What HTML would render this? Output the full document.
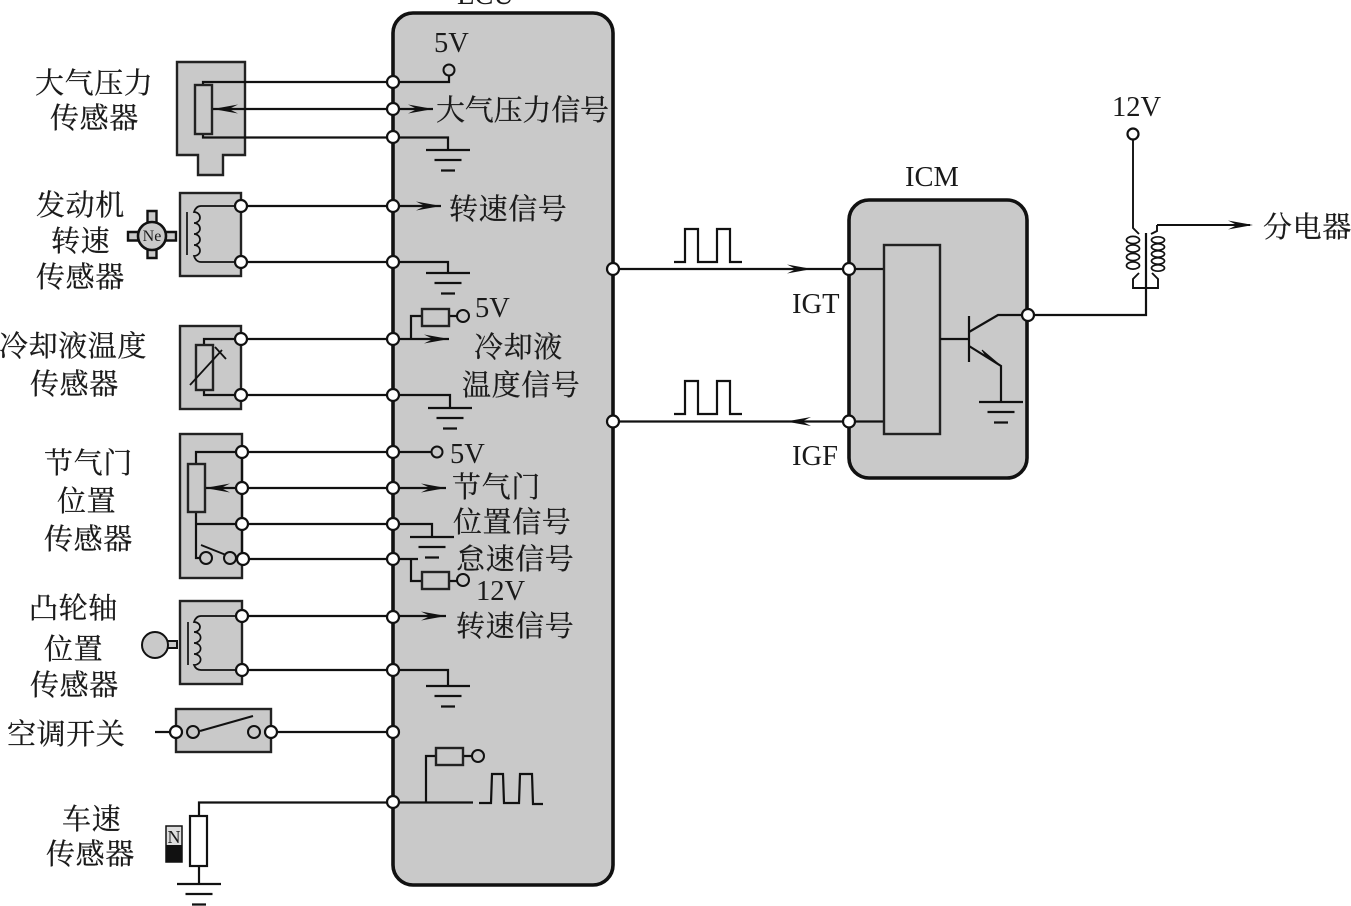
<!DOCTYPE html>
<html>
<head>
<meta charset="utf-8">
<style>
html,body{margin:0;padding:0;background:#fff}
svg{display:block}
.l{fill:none;stroke:#111;stroke-width:2.2}
.b{fill:#c9c9c9;stroke:#222;stroke-width:2.4}
.box{fill:#c9c9c9;stroke:#111;stroke-width:3.6}
.w{fill:#fff;stroke:#111;stroke-width:2.2}
.t{fill:none;stroke:#111;stroke-width:1.7}
.n{fill:#fff;stroke:#111;stroke-width:2.2}
.s{fill:#c9c9c9;stroke:#111;stroke-width:2}
text{fill:#1a1a1a}
.c{font-family:"Liberation Serif","Noto Serif CJK SC",serif;font-size:29px;letter-spacing:.6px;stroke:#1a1a1a;stroke-width:.25px}
.e{font-family:"Liberation Serif",serif;font-size:28.5px}
</style>
</head>
<body>
<svg width="1351" height="906" viewBox="0 0 1351 906" xmlns="http://www.w3.org/2000/svg">
<defs>
<path id="ar" d="M0 0L-25 -4.500L-16 0L-25 4.500Z" fill="#111"/>
<path id="al" d="M0 0L25 -4.500L16 0L25 4.500Z" fill="#111"/>
<path id="gnd" d="M-22 0H22M-13.500 10H13.500M-7 20.500H7" fill="none" stroke="#111" stroke-width="2.200"/>
</defs>

<!-- main boxes -->
<rect class="box" x="393" y="13" width="220" height="872" rx="20" ry="20"/>
<rect class="box" x="849" y="200" width="178" height="278" rx="20" ry="20"/>

<!-- sensor housings -->
<path class="b" d="M177 62H245V155H223V175H198V155H177Z"/>
<rect class="b" x="180" y="193" width="61" height="83"/>
<rect class="b" x="180" y="326" width="61" height="83"/>
<rect class="b" x="180" y="434" width="62" height="144"/>
<rect class="b" x="180" y="601" width="62" height="83"/>
<rect class="b" x="176" y="709" width="95" height="43"/>

<!-- sensor 1 -->
<path class="l" d="M203 85V82H393H449V76M203 134V137.500H393H448V150M213 109H433"/>
<rect class="b" x="195" y="85" width="17" height="49"/>
<use href="#al" x="213" y="109"/><use href="#ar" x="433" y="109"/>
<use href="#gnd" x="448" y="150"/>

<!-- sensor 2 -->
<path class="l" d="M241 206H393H441M241 262H393H448V273"/>
<path class="t" d="M241 206H201Q196 206 194 212a6 5.500 0 0 1 0 11a6 5.500 0 0 1 0 11a6 5.500 0 0 1 0 11a6 5.500 0 0 1 0 11Q196 262 201 262H241M187 212V255"/>
<use href="#ar" x="441" y="206"/>
<use href="#gnd" x="448" y="273"/>
<path fill="#c9c9c9" stroke="#111" stroke-width="2.400" d="M147.500 211H156.500V258H147.500ZM128 232H176V240.500H128Z"/>
<path fill="#c9c9c9" d="M149 213H155V256H149ZM130 233.500H174V239H130Z"/>
<circle cx="152" cy="236" r="14" fill="#c9c9c9" stroke="#111" stroke-width="2.600"/>
<text class="e" x="152" y="241" text-anchor="middle" style="font-size:16px">Ne</text>

<!-- sensor 3 -->
<path class="l" d="M204 345V339H393H449M204 390V395H393H450V408M411 339V316H422M449 316H457"/>
<rect class="b" x="196" y="345" width="17" height="45"/>
<path class="l" d="M190 385L222 350M215 347L226 359" style="stroke-width:1.800"/>
<rect class="b" x="422" y="309" width="27" height="17"/>
<use href="#ar" x="449" y="339"/>
<use href="#gnd" x="450" y="408"/>

<!-- sensor 4 -->
<path class="l" d="M196 464V452H393H431M196 512V558H200M196 524H393H432V537M242 452V559M205 488H446M243 559H393H411V581H422M449 581H457M393 559H418"/>
<rect class="b" x="188" y="464" width="17" height="48"/>
<path class="l" d="M201 545L226 555" style="stroke-width:1.800"/>
<rect class="b" x="422" y="572" width="27" height="17"/>
<use href="#al" x="205" y="488"/><use href="#ar" x="446" y="488"/>
<use href="#gnd" x="432" y="537"/>

<!-- sensor 5 -->
<path class="l" d="M242 616H393H446M242 670H393H448V686"/>
<path class="t" d="M242 616H201Q196 616 194 622a6 5 0 0 1 0 10a6 5 0 0 1 0 11a6 5 0 0 1 0 11a6 5 0 0 1 0 11Q196 670 201 670H242M188 622V665"/>
<use href="#ar" x="446" y="616"/>
<use href="#gnd" x="448" y="686"/>
<rect class="s" x="163" y="641" width="14" height="7"/>
<circle class="s" cx="155" cy="645" r="13"/>

<!-- A/C switch -->
<path class="l" d="M155 732H176M271 732H393M200 731L253 716"/>

<!-- pulse input -->
<path class="l" d="M199 816V802.500H473M426 802V756H436M463 756H472M479 803H491L492 774H503L504 803H519L520 774H532L533 804H543"/>
<rect class="b" x="436" y="748" width="27" height="17"/>
<rect class="w" x="190" y="816" width="17" height="50"/>
<path class="l" d="M199 866V884"/>
<use href="#gnd" x="199" y="884"/>
<rect x="166" y="826" width="16" height="36" fill="#ddd" stroke="#111" stroke-width="1.500"/>
<rect x="166" y="845" width="16" height="17" fill="#111"/>
<text class="e" x="174" y="843" text-anchor="middle" style="font-size:18px">N</text>

<!-- outputs -->
<path class="l" d="M613 269H884M613 421.500H884"/>
<use href="#ar" x="812" y="269"/><use href="#al" x="786" y="421.500"/>
<path class="l" d="M674 262H685V229H698V262H717V229H730V262H742M674 414H685V381H698V414H717V381H730V414H742"/>

<!-- ICM internals -->
<rect class="b" x="884" y="245" width="56" height="189"/>
<path class="l" d="M940 339H969M969 316V362M969 332L998 315H1028M969 346L1001 366V402"/>
<path d="M1001 366L982 350L986 356L978 352Z" fill="#111" stroke="#111"/>
<use href="#gnd" x="1001" y="402"/>
<path class="l" d="M1028 315H1146V233"/>

<!-- ignition coil -->
<path class="l" d="M1133 140V228L1139 234M1157 225H1250M1157 225V231L1151 234M1139 273L1133 279V288H1158V279L1152 273" style="stroke-width:1.900"/>
<g>
<ellipse class="t" cx="1133" cy="240" rx="6.500" ry="3.600"/>
<ellipse class="t" cx="1133" cy="248.500" rx="6.500" ry="3.600"/>
<ellipse class="t" cx="1133" cy="257" rx="6.500" ry="3.600"/>
<ellipse class="t" cx="1133" cy="265.500" rx="6.500" ry="3.600"/>
<ellipse class="t" cx="1158" cy="240" rx="6.500" ry="3.200"/>
<ellipse class="t" cx="1158" cy="247" rx="6.500" ry="3.200"/>
<ellipse class="t" cx="1158" cy="254" rx="6.500" ry="3.200"/>
<ellipse class="t" cx="1158" cy="261" rx="6.500" ry="3.200"/>
<ellipse class="t" cx="1158" cy="268" rx="6.500" ry="3.200"/>
</g>
<use href="#ar" x="1253" y="225"/>

<!-- small open terminals -->
<circle class="s" cx="449" cy="70" r="5.500"/>
<circle class="s" cx="463" cy="316" r="6"/>
<circle class="s" cx="437" cy="452" r="5.500"/>
<circle class="s" cx="463" cy="580" r="6"/>
<circle class="s" cx="478" cy="756" r="6"/>
<circle class="s" cx="206" cy="558" r="6"/>
<circle class="s" cx="230" cy="558" r="6"/>
<circle class="s" cx="193" cy="732" r="6"/>
<circle class="s" cx="254" cy="732" r="6"/>
<circle class="n" cx="1133" cy="134" r="5.500"/>

<!-- nodes -->
<g>
<circle class="n" cx="393" cy="82" r="6"/><circle class="n" cx="393" cy="109" r="6"/><circle class="n" cx="393" cy="137" r="6"/>
<circle class="n" cx="393" cy="206" r="6"/><circle class="n" cx="393" cy="262" r="6"/>
<circle class="n" cx="393" cy="339" r="6"/><circle class="n" cx="393" cy="395" r="6"/>
<circle class="n" cx="393" cy="452" r="6"/><circle class="n" cx="393" cy="488" r="6"/><circle class="n" cx="393" cy="524" r="6"/><circle class="n" cx="393" cy="559" r="6"/>
<circle class="n" cx="393" cy="617" r="6"/><circle class="n" cx="393" cy="670" r="6"/><circle class="n" cx="393" cy="732" r="6"/><circle class="n" cx="393" cy="802" r="6"/>
<circle class="n" cx="241" cy="206" r="6"/><circle class="n" cx="241" cy="262" r="6"/>
<circle class="n" cx="241" cy="339" r="6"/><circle class="n" cx="241" cy="395" r="6"/>
<circle class="n" cx="242" cy="452" r="6"/><circle class="n" cx="242" cy="488" r="6"/><circle class="n" cx="242" cy="524" r="6"/><circle class="n" cx="243" cy="559" r="6"/>
<circle class="n" cx="242" cy="616" r="6"/><circle class="n" cx="242" cy="670" r="6"/>
<circle class="n" cx="176" cy="732" r="6"/><circle class="n" cx="271" cy="732" r="6"/>
<circle class="n" cx="613" cy="269" r="6"/><circle class="n" cx="613" cy="421.500" r="6"/>
<circle class="n" cx="849" cy="269" r="6"/><circle class="n" cx="849" cy="421.500" r="6"/><circle class="n" cx="1028" cy="315" r="6"/>
</g>

<!-- left labels -->
<text class="c" x="35" y="93">大气压力</text>
<text class="c" x="50" y="128">传感器</text>
<text class="c" x="36" y="215">发动机</text>
<text class="c" x="51" y="251">转速</text>
<text class="c" x="36" y="287">传感器</text>
<text class="c" x="-1" y="356">冷却液温度</text>
<text class="c" x="30" y="394">传感器</text>
<text class="c" x="44" y="473">节气门</text>
<text class="c" x="57" y="511">位置</text>
<text class="c" x="44" y="549">传感器</text>
<text class="c" x="29" y="618">凸轮轴</text>
<text class="c" x="44" y="659">位置</text>
<text class="c" x="30" y="695">传感器</text>
<text class="c" x="7" y="744">空调开关</text>
<text class="c" x="62" y="829">车速</text>
<text class="c" x="46" y="864">传感器</text>

<!-- ECU labels -->
<text class="e" x="457" y="4">ECU</text>
<text class="e" x="434" y="52">5V</text>
<text class="c" x="436" y="120" style="letter-spacing:-.2px">大气压力信号</text>
<text class="c" x="449" y="219">转速信号</text>
<text class="e" x="475" y="317">5V</text>
<text class="c" x="474" y="357">冷却液</text>
<text class="c" x="462" y="395">温度信号</text>
<text class="e" x="450" y="463">5V</text>
<text class="c" x="452" y="497">节气门</text>
<text class="c" x="453" y="532">位置信号</text>
<text class="c" x="456" y="569">怠速信号</text>
<text class="e" x="476" y="600">12V</text>
<text class="c" x="456" y="636">转速信号</text>

<!-- ignition labels -->
<text class="e" x="792" y="313">IGT</text>
<text class="e" x="792" y="465">IGF</text>
<text class="e" x="905" y="186">ICM</text>
<text class="e" x="1112" y="116">12V</text>
<text class="c" x="1263" y="237">分电器</text>
</svg>
</body>
</html>
